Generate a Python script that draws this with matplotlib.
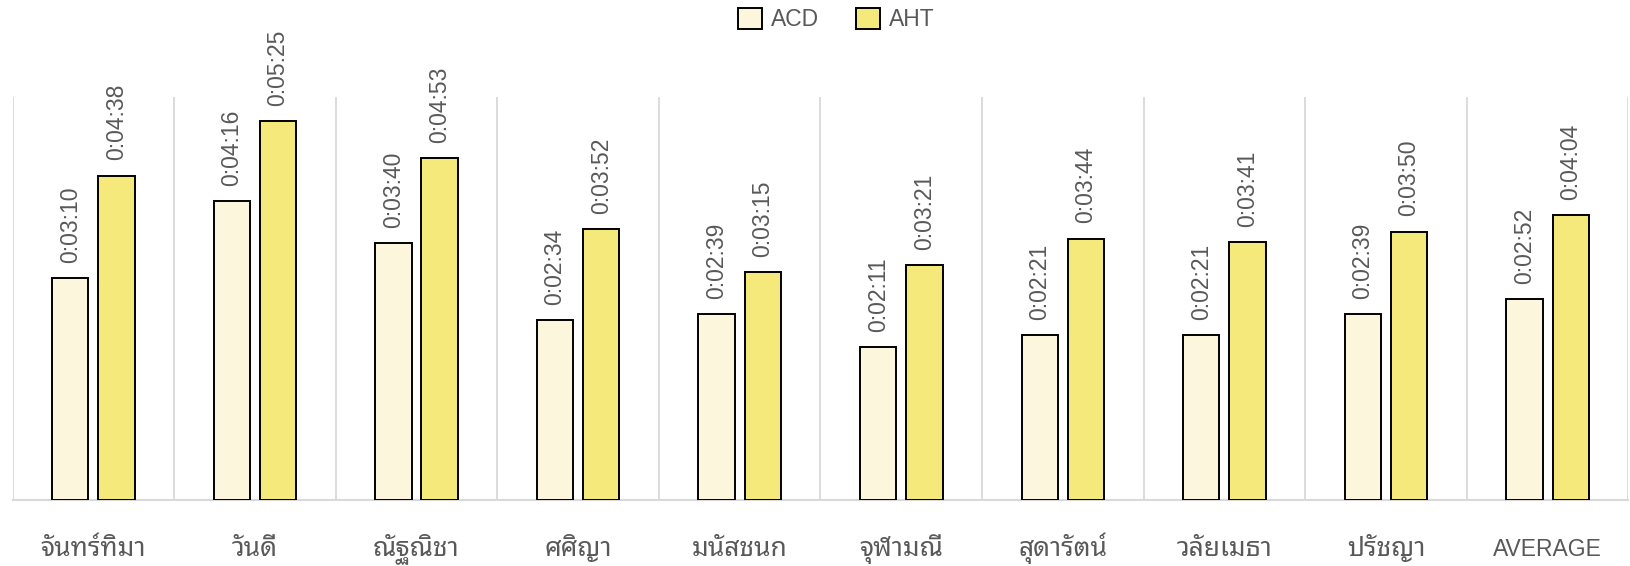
import matplotlib
matplotlib.use("Agg")
import matplotlib.pyplot as plt
import numpy as np

# Fuentes: latinas + tailandesas (fallback)
plt.rcParams['font.family'] = ['Liberation Sans', 'Noto Sans Thai Looped', 'DejaVu Sans']

# Datos (segundos)
names = ['จันทร์ทิมา', 'วันดี', 'ณัฐณิชา', 'ศศิญา', 'มนัสชนก',
         'จุฬามณี', 'สุดารัตน์', 'วลัยเมธา', 'ปรัชญา', 'AVERAGE']
acd = [190, 256, 220, 154, 159, 131, 141, 141, 159, 172]
aht = [278, 325, 293, 232, 195, 201, 224, 221, 230, 244]

TXT = '#595959'
GRID = '#d9d9d9'
FS = 16.5


def hms(s):
    return "0:%02d:%02d" % (s // 60, s % 60)


fig = plt.figure(figsize=(16.3, 5.66), dpi=100)
ax = fig.add_axes([0.0077, 0.1166, 0.9913, 0.7124])

x = np.arange(len(names))
off, w = 0.143, 0.225
b1 = ax.bar(x - off, acd, w, color='#fcf6dc', edgecolor='black', linewidth=1.4, label='ACD', zorder=3)
b2 = ax.bar(x + off, aht, w, color='#f6e97c', edgecolor='black', linewidth=1.4, label='AHT', zorder=3)

for bars, vals in ((b1, acd), (b2, aht)):
    for r, v in zip(bars, vals):
        ax.annotate(hms(v), (r.get_x() + r.get_width() / 2, v), xytext=(0, 11),
                    textcoords='offset points', rotation=90, ha='center', va='bottom',
                    fontsize=FS, color=TXT)

ax.set_xlim(-0.5, len(names) - 0.5)
ax.set_ylim(0, 345.6)
ax.set_yticks([])
ax.set_xticks(x)
ax.set_xticklabels(names, fontsize=FS, color=TXT, va='baseline')
# los nombres tailandeses se ven mas grandes en el original
for t in ax.get_xticklabels():
    if t.get_text() != 'AVERAGE':
        t.set_fontsize(19)
ax.tick_params(axis='x', length=0, pad=40)
ax.set_xticks(np.arange(len(names) + 1) - 0.5, minor=True)
ax.tick_params(axis='x', which='minor', length=0)
ax.grid(True, which='minor', axis='x', color=GRID, linewidth=1.3, zorder=0)
for s in ('top', 'left', 'right'):
    ax.spines[s].set_visible(False)
ax.spines['bottom'].set_color(GRID)
ax.spines['bottom'].set_linewidth(1.5)

fig.legend(loc='upper center', bbox_to_anchor=(0.513, 1.023), ncol=2, frameon=False,
           fontsize=FS, labelcolor=TXT, handlelength=1.05, handleheight=1.05,
           handletextpad=0.4, columnspacing=1.6)

fig.savefig('out.png')
